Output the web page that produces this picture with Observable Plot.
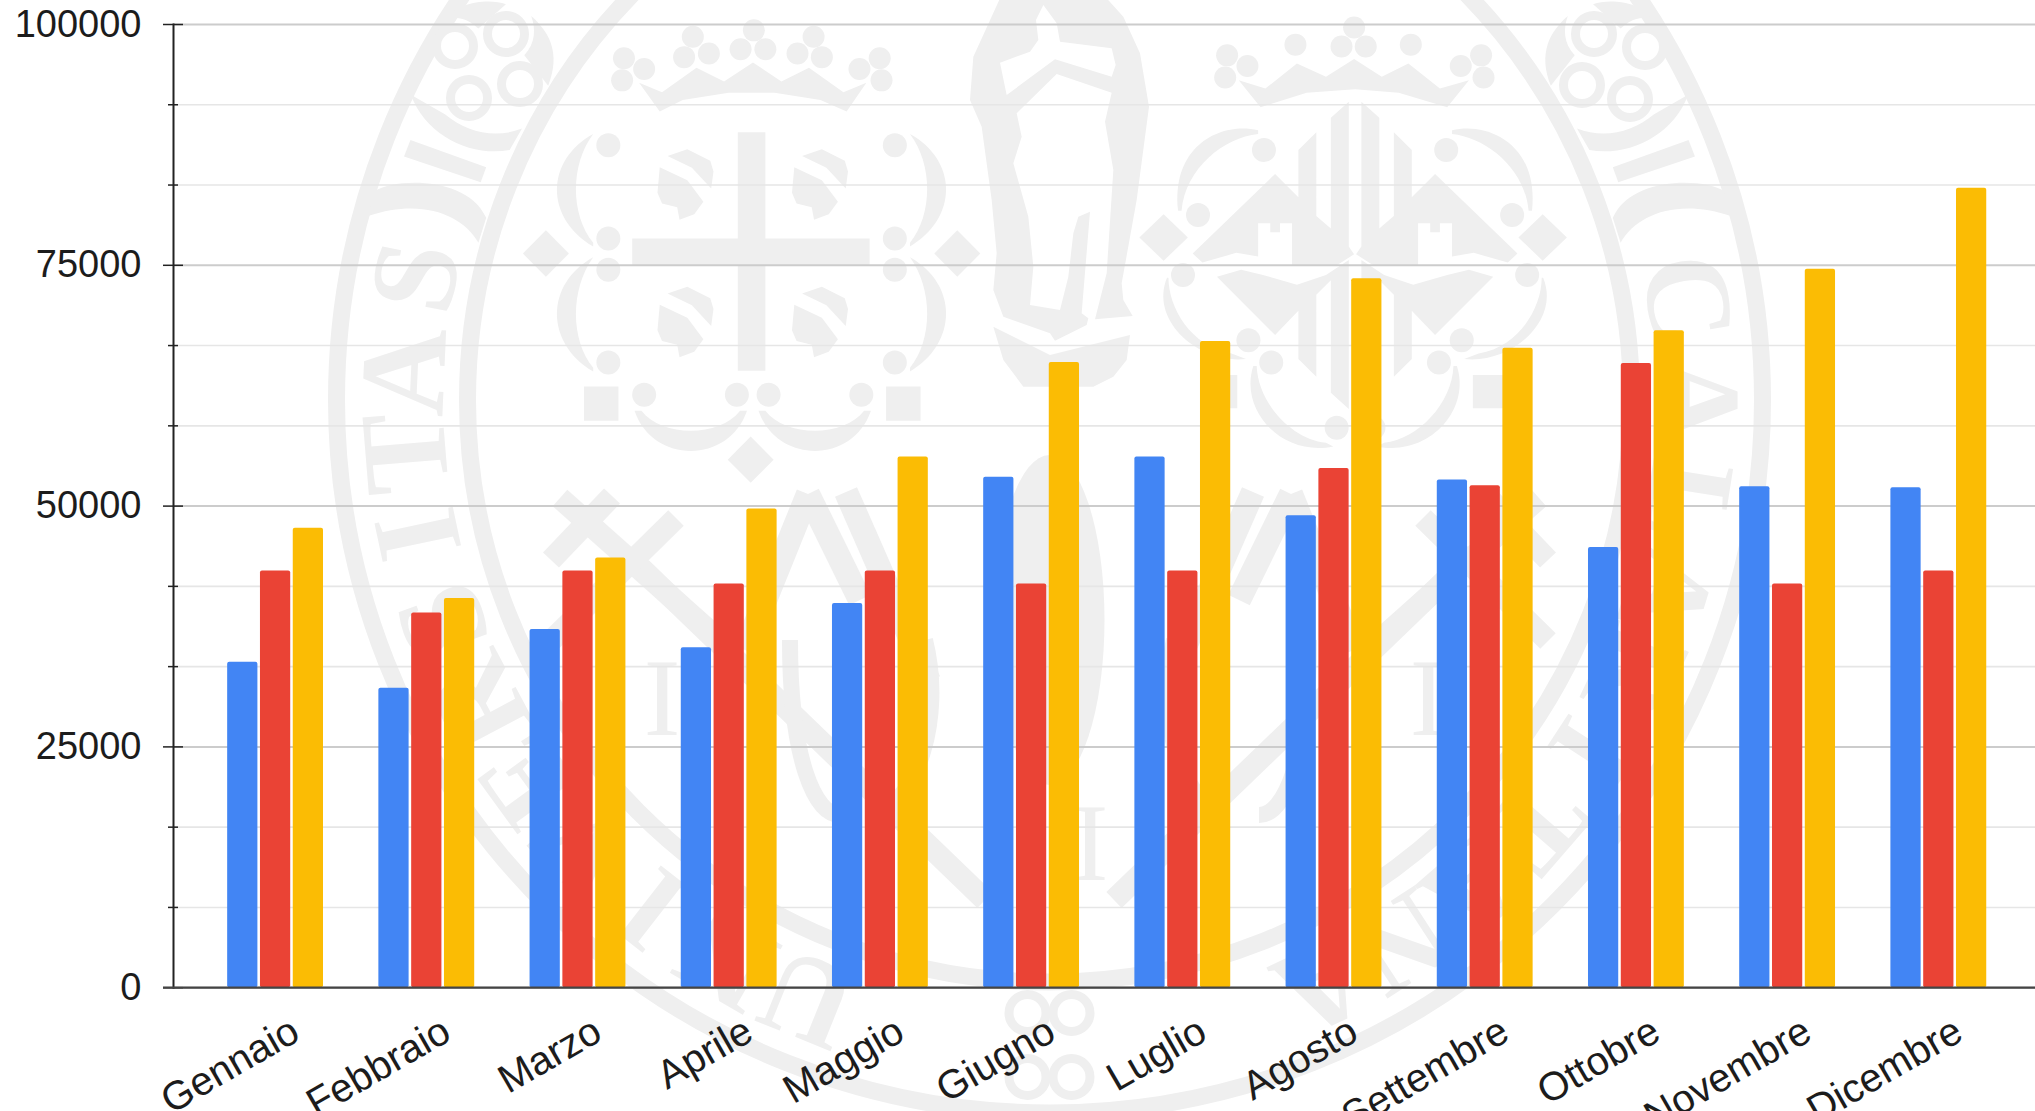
<!DOCTYPE html>
<html lang="it">
<head>
<meta charset="utf-8">
<style>
html,body{margin:0;padding:0;background:#fff;overflow:hidden}
svg{display:block}
</style>
<script src="https://cdn.jsdelivr.net/npm/d3@7"></script>
<script src="https://cdn.jsdelivr.net/npm/@observablehq/plot@0.6"></script>
</head>
<body>
<div id="chart"></div>
<script>
const months = ["Gennaio","Febbraio","Marzo","Aprile","Maggio","Giugno","Luglio","Agosto","Settembre","Ottobre","Novembre","Dicembre"];
const blueValues = [33800,31100,37200,35300,39900,53000,55100,49000,52700,45700,52000,51900];
const redValues = [43250,38900,43250,41900,43250,41900,43250,53900,52100,64800,41900,43250];
const yellowValues = [47700,40400,44600,49700,55100,64900,67100,73600,66400,68200,74600,83000];
const majorTicks = [0,25000,50000,75000,100000];
const minorTicks = [8333,16667,33333,41667,58333,66667,83333,91667];

const GREY = "#efefef";
const NS = "http://www.w3.org/2000/svg";
// Background seal; it carries no data.
function seal() {
  const g = document.createElementNS(NS,"g");
  const add = (tag,attrs,text) => {
    const e = document.createElementNS(NS,tag);
    for (const k in attrs) e.setAttribute(k,attrs[k]);
    if (text) e.textContent = text;
    g.appendChild(e); return e;
  };
  const CX = 1049.5, CY = 400;
  add("circle",{cx:CX,cy:CY,r:713,fill:"none",stroke:GREY,"stroke-width":17});
  add("circle",{cx:CX,cy:CY,r:582,fill:"none",stroke:GREY,"stroke-width":17});

  // ring lettering (angles clockwise from north)
  const letter = (ch,deg) => add("text",{
    transform:`translate(${CX},${CY}) rotate(${deg}) translate(0,-606)`,
    "text-anchor":"middle","font-family":"Liberation Serif","font-weight":"bold","font-size":122,fill:GREY},ch);
  [["U",-158],["N",-150],["I",-142],["V",-134],["E",-126],["R",-118],["S",-110],["I",-102],["T",-94.7],["A",-87.5],["S",-79]]
    .forEach(([c,a]) => letter(c,a));
  [["C",81],["A",90],["L",99],["A",107],["R",115],["I",123],["T",131],["A",139],["N",147],["A",155]]
    .forEach(([c,a]) => letter(c,a));
  // inner letters
  [[662,735],[1428,735],[1090,880]].forEach(([x,y]) =>
    add("text",{x,y,"text-anchor":"middle","font-family":"Liberation Serif","font-size":110,fill:GREY},"I"));

  const L = (x,y) => [320+x/2.178, y/2.8];
  const LR = (x,y) => { const p = L(x,y); return [2099-p[0],p[1]]; };
  const R = (x,y) => [1040+x/2.063, y/2.8];
  const F = (x,y) => [950+x/3, y/3];
  const poly = (map,pts,mx) => add("polygon",{fill:GREY,
    points:pts.map(([x,y]) => map(mx ? mx-x : x,y).join(",")).join(" ")});
  const dot = (map,x,y,r=11) => { const [a,b]=map(x,y); add("circle",{cx:a,cy:b,r,fill:GREY}); };
  const curve = (map,d,mx) => {
    const p = d.map(seg => seg.map(([x,y]) => map(mx?mx-x:x,y).join(" ")));
    const s = p.map((seg,i) => (i==0?"M":seg.length==3?"C":"L")+seg.join(" ")).join(" ")+"Z";
    add("path",{d:s,fill:GREY});
  };

  // ---- left shield ----
  const LM = 1880;
  poly(L,[[695,232],[745,258],[820,190],[880,228],[943,175],[1005,228],[1065,190],[1140,258],[1190,232],[1147,312],[1090,280],[990,260],[890,260],[790,280],[740,312]]);
  [[662,163],[706,193],[658,225],[793,160],[847,150],[812,103],[916,138],[970,138],[945,85],[1040,150],[1093,160],[1075,103],[1175,193],[1219,163],[1223,225]]
    .forEach(([x,y]) => dot(L,x,y));
  poly(L,[[910,370],[970,370],[970,668],[1197,668],[1197,745],[970,745],[970,1038],[910,1038],[910,745],[680,745],[680,668],[910,668]]);
  const cres = [[[595,375]],[[490,450],[490,610],[595,690]],[[595,680]],[[545,600],[545,460],[595,375]]];
  const cres2 = [[[595,720]],[[490,795],[490,960],[595,1040]],[[595,1030]],[[545,950],[545,810],[595,720]]];
  [cres,cres2].forEach(c => { curve(L,c); curve(L,c,LM); });
  [[628,407],[628,668],[628,755],[628,1015]].forEach(([x,y]) => { dot(L,x,y,12); dot(L,LM-x,y,12); });
  [[706,1105],[908,1105]].forEach(([x,y]) => { dot(L,x,y,12); dot(L,LM-x+5,y,12); });
  const diamond = (map,x,y) => poly(map,[[x,y-65],[x+50,y],[x,y+65],[x-50,y]]);
  diamond(L,492,710); diamond(L,1388,710); diamond(L,938,1287);
  [[575,650],[1233,1308]].forEach(([a,b]) => poly(L,[[a,1082],[b,1082],[b,1178],[a,1178]]));
  [[685,930],[955,1200]].forEach(([a,b]) => {
    curve(L,[[[a,1150]],[[a+40,1300],[b-40,1300],[b,1150]],[[b-15,1150]],[[b-60,1225],[a+60,1225],[a+15,1150]]]);
  });
  const leafA=[[757,437],[800,418],[850,450],[857,480],[852,528],[810,470]];
  const leafB=[[740,468],[800,505],[835,565],[815,600],[783,615],[778,580],[745,570],[735,540]];
  [[0,0],[293,0],[0,385],[293,385]].forEach(([dx,dy]) => {
    poly(L,leafA.map(([x,y])=>[x+dx,y+dy]));
    poly(L,leafB.map(([x,y])=>[x+dx,y+dy]));
  });

  // ---- right shield ----
  const RM = 1300;
  poly(R,[[410,225],[465,248],[530,178],[590,215],[648,165],[705,215],[760,178],[825,248],[885,225],[840,300],[740,260],[650,250],[550,260],[455,300]]);
  [[386,155],[428,185],[382,217],[527,125],[622,130],[672,130],[648,77],[765,125],[868,185],[910,155],[915,217]]
    .forEach(([x,y]) => dot(R,x,y));
  const castle=[[485,487],[533,552],[533,420],[570,370],[570,605],[600,640],[600,330],[637,285],[637,690],[648,712],[610,745],[520,745],[520,625],[495,625],[495,650],[475,650],[475,625],[450,625],[450,718],[405,708],[335,735],[315,710]];
  const castleLow=[[365,775],[415,755],[460,770],[530,797],[590,770],[637,728],[637,1145],[600,1100],[600,785],[570,825],[570,1055],[533,1005],[533,870],[485,938]];
  [castle,castleLow].forEach(p => { poly(R,p); poly(R,p,RM); });
  const rc1=[[[450,365]],[[380,340],[270,400],[285,590]],[[292,590]],[[300,470],[380,385],[450,375]]];
  const rc2=[[[262,778]],[[225,900],[330,1020],[425,1005]],[[395,990]],[[310,970],[265,860],[265,778]]];
  const rc3=[[[440,1025]],[[410,1150],[500,1280],[605,1250]],[[590,1240]],[[520,1230],[450,1130],[447,1025]]];
  [rc1,rc2,rc3].forEach(c => { curve(R,c); curve(R,c,RM); });
  [[462,420],[326,602],[295,770],[430,953],[477,1015],[612,1198]].forEach(([x,y]) => { dot(R,x,y,12); dot(R,RM-x,y,12); });
  diamond(R,255,665); diamond(R,1037,665);
  [[340,407],[893,960]].forEach(([a,b]) => poly(R,[[a,1050],[b,1050],[b,1143],[a,1143]]));

  // ---- central figure ----
  poly(F,[[150,-5],[70,170],[60,300],[95,380],[125,600],[140,760],[130,870],[160,950],[300,1000],[315,1022],[410,975],[415,955],[395,940],[420,635],[385,650],[370,700],[355,830],[330,930],[240,915],[250,800],[235,650],[190,490],[215,410],[200,340],[320,222],[485,278],[465,365],[490,510],[470,820],[435,958],[548,948],[520,900],[515,850],[560,600],[597,320],[570,160],[520,50],[470,-5]]);
  add("polygon",{fill:"#fff",points:[[280,15],[258,60],[265,120],[240,155],[150,188],[170,285],[315,178],[485,230],[497,195],[485,145],[330,125],[320,70]].map(p=>F(...p).join(",")).join(" ")});
  poly(F,[[130,980],[300,1065],[540,1005],[530,1080],[490,1130],[430,1160],[220,1160],[160,1080]]);

  // ---- flower medallions ----
  const flower = (cx,cy,holes) => {
    holes.forEach(([x,y]) => add("circle",{cx:cx+x,cy:cy+y,r:18.5,fill:"#fff",stroke:GREY,"stroke-width":9}));
  };
  flower(481,68,[[-26,-22],[25,-34],[39,16],[-12,30]]);
  flower(1619,68,[[-25,-34],[26,-21],[-37,17],[11,31]]);
  flower(1049.5,1045,[[-22,-32],[22,-32],[-22,32],[22,32]]);
  const swash=[[[198,265]],[[230,380],[330,440],[413,420]],[[440,360]],[[380,390],[320,370],[272,320]]];
  const topArc=[[[280,50]],[[300,5],[370,-5],[405,12]],[[345,80]],[[320,50],[300,50],[280,50]]];
  const sideArc=[[[460,45]],[[500,90],[525,150],[497,240]],[[445,155]],[[470,120],[470,80],[460,45]]];
  const arch=[[[120,535]],[[160,500],[320,490],[362,610]],[[345,680]],[[310,600],[220,555],[105,605]]];
  [L,LR].forEach(m => {
    [swash,topArc,sideArc,arch].forEach(c => curve(m,c));
    poly(m,[[197,392],[362,468],[350,510],[183,438]]);
  });

  // ---- lower interior bands ----
  const band = (x1,y1,x2,y2,w=22) => {
    add("line",{x1,y1,x2,y2,stroke:GREY,"stroke-width":w});
    add("line",{x1:2099-x1,y1,x2:2099-x2,y2,stroke:GREY,"stroke-width":w});
  };
  band(560,498,716,637);
  band(641,568,985,900);
  band(676,518,551,641);
  band(612,496,551,560);
  band(808,494,745,650,24);
  band(808,494,860,600,24);
  band(846,492,929,681,24);
  add("path",{fill:"none",stroke:GREY,"stroke-width":16,d:"M790 640 C790 760 815 815 840 815"});
  add("path",{fill:"none",stroke:GREY,"stroke-width":16,d:"M925 640 C945 720 915 800 880 810"});
  add("path",{fill:"none",stroke:GREY,"stroke-width":16,d:"M1309 640 C1309 760 1284 815 1259 815"});
  add("path",{fill:"none",stroke:GREY,"stroke-width":16,d:"M1174 640 C1154 720 1184 800 1219 810"});
  add("ellipse",{cx:1049.5,cy:620,rx:55,ry:165,fill:GREY});
  return g;
}

const BAR_OFFSET = 32.8;
const barFrom = (values,fill,dx) => Plot.barY(months.map((m,i) => ({month:m,value:values[i]})),
  {x:"month",y:"value",fill,dx,rx:2});

const chart = Plot.plot({
  width:2035,height:1111,
  marginTop:24,marginBottom:123.8,marginLeft:173,marginRight:0,
  style:{background:"transparent",fontFamily:"Liberation Sans",color:"#1c1c1c"},
  x:{type:"band",domain:months,range:[139,2074.4],padding:0.8,round:false,label:null},
  y:{domain:[0,100000],label:null},
  marks:[
    seal,
    Plot.ruleY(minorTicks,{stroke:"#e6e6e6",strokeWidth:1.6}),
    Plot.ruleY(majorTicks,{stroke:"#cccccc",strokeWidth:2}),
    Plot.ruleY(minorTicks,{stroke:"#222",strokeWidth:1.5,insetLeft:-5,insetRight:1857}),
    Plot.ruleY(majorTicks,{stroke:"#222",strokeWidth:1.5,insetLeft:-10,insetRight:1852}),
    Plot.frame({anchor:"left",stroke:"#222",strokeWidth:2}),
    barFrom(blueValues,"#4285f4",-BAR_OFFSET),
    barFrom(redValues,"#ea4335",0),
    barFrom(yellowValues,"#fbbc04",BAR_OFFSET),
    Plot.ruleY([0],{stroke:"#444",strokeWidth:2.2,insetLeft:-10}),
    Plot.axisY({ticks:majorTicks,tickFormat:d=>String(d),tickSize:0,tickPadding:32,fontSize:38,label:null,fill:"#1c1c1c",marginLeft:173}),
    Plot.axisX({tickRotate:-30,tickSize:0,tickPadding:40,dx:20,fontSize:40,label:null,fill:"#1c1c1c",marginBottom:123.8})
  ]
});
document.getElementById("chart").appendChild(chart);
</script>
</body>
</html>
